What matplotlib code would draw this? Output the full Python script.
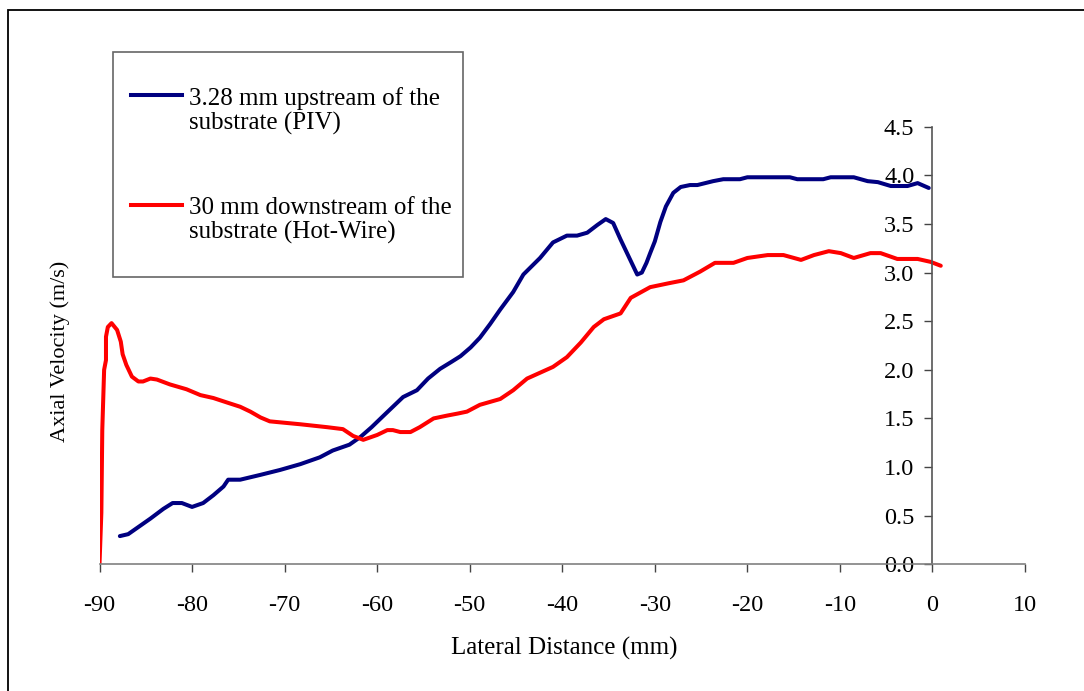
#!/usr/bin/env python3
"""Axial velocity profiles across the jet: PIV upstream vs hot-wire downstream."""

import matplotlib

matplotlib.use("Agg")
import matplotlib.pyplot as plt
from matplotlib.lines import Line2D
from matplotlib.patches import Rectangle

plt.rcParams["font.family"] = ["Liberation Serif", "DejaVu Serif"]

# 3.28 mm upstream of the substrate (PIV)
piv_x = [-87.8, -86.9, -86.0, -84.5, -83.1, -82.1, -81.1, -80.0, -78.8, -77.7,
         -76.6, -76.1, -74.8, -72.6, -70.5, -68.3, -66.2, -64.8, -63.0, -61.8,
         -60.6, -59.4, -58.3, -57.2, -55.7, -54.5, -53.2, -52.0, -51.0, -49.9,
         -48.9, -47.8, -46.7, -45.3, -44.2, -42.4, -41.0, -39.5, -38.4, -37.3,
         -36.2, -35.3, -34.5, -33.7, -33.0, -32.4, -31.9, -31.4, -30.9, -30.5,
         -30.0, -29.4, -28.8, -28.0, -27.2, -26.2, -25.4, -23.7, -22.6, -20.8,
         -20.0, -15.4, -14.6, -11.8, -11.0, -8.5, -7.0, -5.9, -4.5, -2.7,
         -1.6, -0.4]
piv_v = [0.29, 0.31, 0.37, 0.47, 0.57, 0.63, 0.63, 0.59, 0.63, 0.71,
         0.80, 0.87, 0.87, 0.92, 0.97, 1.03, 1.10, 1.17, 1.23, 1.31,
         1.41, 1.52, 1.62, 1.72, 1.79, 1.91, 2.01, 2.08, 2.14, 2.23,
         2.33, 2.47, 2.62, 2.80, 2.98, 3.15, 3.31, 3.38, 3.38, 3.41,
         3.49, 3.55, 3.51, 3.34, 3.20, 3.08, 2.98, 3.00, 3.10, 3.20,
         3.32, 3.52, 3.68, 3.82, 3.88, 3.90, 3.90, 3.94, 3.96, 3.96,
         3.98, 3.98, 3.96, 3.96, 3.98, 3.98, 3.94, 3.93, 3.89, 3.89,
         3.92, 3.87]

# 30 mm downstream of the substrate (hot-wire)
hw_x = [-90.0, -89.8, -89.7, -89.5, -89.3, -89.3, -89.1, -88.7, -88.1, -87.7,
        -87.5, -87.1, -86.5, -85.8, -85.3, -84.5, -83.8, -82.4, -80.6, -79.1,
        -77.7, -76.1, -74.8, -73.7, -72.6, -71.6, -68.3, -65.4, -63.7, -62.6,
        -61.5, -60.0, -58.9, -58.3, -57.5, -56.4, -55.4, -53.9, -52.4, -51.3,
        -50.3, -48.9, -46.7, -45.3, -43.8, -42.4, -41.0, -39.5, -38.0, -36.6,
        -35.5, -33.7, -32.6, -30.5, -28.5, -26.9, -25.1, -23.5, -21.5, -20.0,
        -17.8, -16.1, -14.2, -12.8, -11.2, -9.9, -8.5, -6.7, -5.6, -3.8,
        -1.6, -0.2, 0.9]
hw_v = [0.00, 0.53, 1.38, 2.00, 2.10, 2.34, 2.44, 2.48, 2.41, 2.29,
        2.16, 2.05, 1.93, 1.88, 1.88, 1.91, 1.90, 1.85, 1.80, 1.74,
        1.71, 1.66, 1.62, 1.57, 1.51, 1.47, 1.44, 1.41, 1.39, 1.32,
        1.28, 1.33, 1.38, 1.38, 1.36, 1.36, 1.41, 1.50, 1.53, 1.55,
        1.57, 1.64, 1.70, 1.79, 1.91, 1.97, 2.03, 2.13, 2.28, 2.44,
        2.52, 2.58, 2.74, 2.85, 2.89, 2.92, 3.01, 3.10, 3.10, 3.15,
        3.18, 3.18, 3.13, 3.18, 3.22, 3.20, 3.15, 3.20, 3.20, 3.14,
        3.14, 3.11, 3.07]

x_ticks = [-90, -80, -70, -60, -50, -40, -30, -20, -10, 0, 10]
y_ticks = [0.0, 0.5, 1.0, 1.5, 2.0, 2.5, 3.0, 3.5, 4.0, 4.5]

labels = ["3.28 mm upstream of the\nsubstrate (PIV)",
          "30 mm downstream of the\nsubstrate (Hot-Wire)"]
colors = ["#000080", "#ff0000"]

W, H = 1084, 691
fig = plt.figure(figsize=(W / 100, H / 100), dpi=100)
ax = fig.add_axes([99.5 / W, 1 - 564.3 / H, 925.5 / W, 437.6 / H])

ax.plot(piv_x, piv_v, color=colors[0], lw=2.9, solid_joinstyle="round",
        solid_capstyle="round")
ax.plot(hw_x, hw_v, color=colors[1], lw=2.9, solid_joinstyle="round",
        solid_capstyle="round")

ax.set_xlim(-90, 10)
ax.set_ylim(0, 4.5)
ax.set_xticks(x_ticks)
ax.set_xticklabels([str(t) for t in x_ticks])
ax.set_yticks(y_ticks)
ax.set_yticklabels([f"{t:.1f}" for t in y_ticks])

for side in ("top", "right"):
    ax.spines[side].set_visible(False)
ax.spines["left"].set_position(("data", 0))
ax.spines["bottom"].set_position(("data", 0))
ax.spines["bottom"].set_color("#808080")
ax.spines["left"].set_color("#555555")
for side in ("left", "bottom"):
    ax.spines[side].set_linewidth(1.2)

ax.tick_params(axis="x", direction="out", length=6, width=1, color="#444444",
               labelsize=17.5, pad=16)
ax.tick_params(axis="y", direction="out", length=6, width=1, color="#444444",
               labelsize=17.5, pad=7)

fig.text(564 / W, 1 - 648 / H, "Lateral Distance (mm)", ha="center",
         va="center", fontsize=18)
fig.text(60 / W, 1 - 351 / H, "Axial Velocity (m/s)", ha="center",
         va="center", rotation=90, fontsize=16)

# legend box drawn by hand so the handle sits on the first text line
fig.patches.append(Rectangle((113 / W, 1 - 277 / H), 350 / W, 225 / H,
                             transform=fig.transFigure, fill=False,
                             edgecolor="#666666", lw=1.2))
for row, (lab, col) in enumerate(zip(labels, colors)):
    y_line = 95 + row * 110
    fig.lines.append(Line2D([131 / W, 182 / W], [1 - y_line / H] * 2,
                            transform=fig.transFigure, color=col, lw=2.9))
    fig.text(189 / W, 1 - (y_line - 8) / H, lab, ha="left", va="top",
             fontsize=18, linespacing=1.12)

# outer frame; only its left and top edges land inside the canvas
fig.patches.append(Rectangle((7.5 / W, -0.05), 1.2, 1.05 - 10.5 / H,
                             transform=fig.transFigure, fill=False,
                             edgecolor="black", lw=1.3))

fig.savefig("out.png", dpi=100)
